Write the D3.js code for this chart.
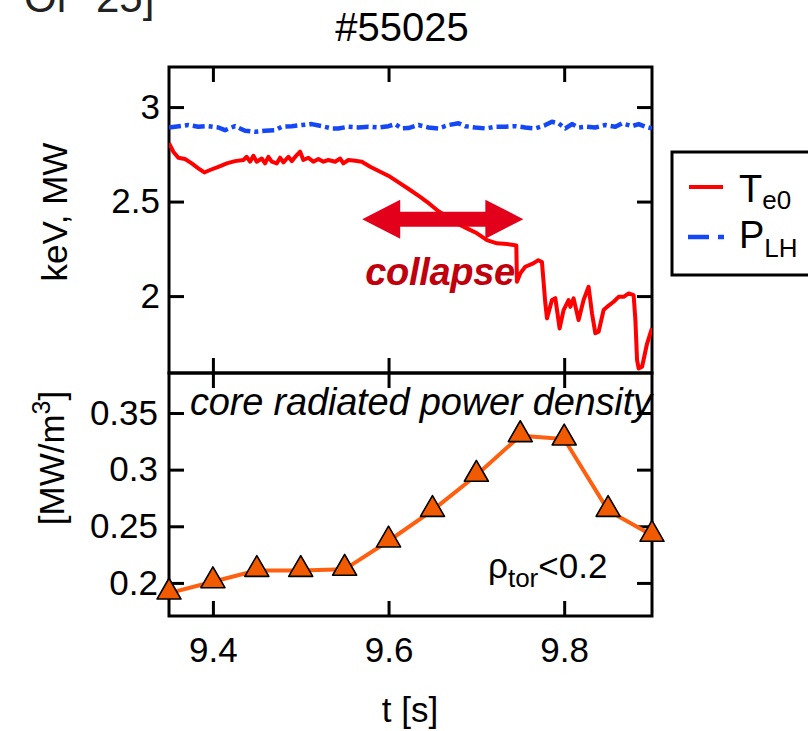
<!DOCTYPE html>
<html><head><meta charset="utf-8">
<script src="https://cdn.jsdelivr.net/npm/d3@7"></script>
<style>body{margin:0;background:#fff}svg{display:block}text{font-family:"Liberation Sans",Arial,sans-serif}</style>
</head><body>
<svg id="c" width="808" height="731"></svg>
<script>
// ---- data ----
const teTime = [9.3500,9.3511,9.3549,9.3606,9.3682,9.3759,9.3834,9.3902,9.3967,9.4062,9.4158,9.4252,9.4347,9.4385,9.4423,9.4461,9.4499,9.4556,9.4594,9.4632,9.4670,9.4727,9.4765,9.4803,9.4860,9.4898,9.4955,9.4993,9.5030,9.5087,9.5144,9.5201,9.5258,9.5315,9.5392,9.5449,9.5486,9.5543,9.5620,9.5696,9.5791,9.5905,9.6019,9.6132,9.6246,9.6360,9.6437,9.6551,9.6665,9.6779,9.6893,9.7007,9.7121,9.7234,9.7348,9.7424,9.7455,9.7462,9.7500,9.7557,9.7648,9.7705,9.7747,9.7785,9.7804,9.7861,9.7899,9.7948,9.7993,9.8050,9.8070,9.8107,9.8164,9.8221,9.8278,9.8317,9.8355,9.8392,9.8449,9.8488,9.8563,9.8620,9.8677,9.8734,9.8791,9.8811,9.8830,9.8848,9.8887,9.8944,9.9000];
const teValue = [2.808,2.799,2.764,2.732,2.725,2.702,2.676,2.654,2.667,2.684,2.702,2.714,2.720,2.737,2.711,2.742,2.711,2.728,2.702,2.737,2.711,2.702,2.732,2.707,2.737,2.714,2.746,2.764,2.720,2.732,2.711,2.725,2.711,2.720,2.711,2.728,2.702,2.720,2.716,2.711,2.684,2.658,2.631,2.596,2.561,2.525,2.499,2.455,2.420,2.384,2.358,2.332,2.296,2.279,2.275,2.270,2.268,2.076,2.120,2.155,2.173,2.190,2.180,1.963,1.882,1.979,1.989,1.829,1.926,1.979,1.943,1.988,1.873,1.979,2.049,1.908,1.803,1.811,1.926,1.943,1.970,1.996,1.996,2.014,2.005,1.873,1.661,1.617,1.626,1.749,1.830];
const plhTime = [9.3500,9.3568,9.3720,9.3834,9.3948,9.4062,9.4138,9.4252,9.4366,9.4480,9.4594,9.4708,9.4784,9.4898,9.5012,9.5126,9.5240,9.5354,9.5429,9.5543,9.5657,9.5771,9.5885,9.5999,9.6076,9.6152,9.6227,9.6341,9.6455,9.6569,9.6683,9.6797,9.6873,9.6987,9.7101,9.7215,9.7329,9.7443,9.7557,9.7671,9.7785,9.7861,9.7936,9.8013,9.8089,9.8164,9.8241,9.8355,9.8469,9.8583,9.8659,9.8773,9.8848,9.8924,9.9000];
const plhValue = [2.892,2.896,2.905,2.896,2.899,2.892,2.878,2.899,2.875,2.869,2.875,2.878,2.896,2.899,2.905,2.910,2.899,2.887,2.887,2.896,2.892,2.896,2.892,2.899,2.910,2.887,2.889,2.905,2.892,2.887,2.905,2.914,2.899,2.892,2.887,2.896,2.896,2.899,2.892,2.887,2.905,2.922,2.914,2.887,2.910,2.892,2.896,2.892,2.905,2.896,2.914,2.899,2.910,2.896,2.887];
const radTime = [9.35,9.40,9.45,9.50,9.55,9.60,9.65,9.70,9.75,9.80,9.85,9.90];
const radValue = [0.191,0.201,0.211,0.211,0.212,0.237,0.264,0.295,0.330,0.327,0.264,0.242];
const xTicks = [9.4,9.6,9.8];
const topTicks = [2,2.5,3];
const botTicks = [0.2,0.25,0.3,0.35];
const legendNames = ["T","P"];
const legendSubs = ["e0","LH"];

// ---- layout ----
const svg = d3.select("#c");
const L = 169, R = 652, T1 = 67, B1 = 373, T2 = 373, B2 = 616;
const x = d3.scaleLinear().domain([9.35, 9.9]).range([L, R]);
const y1 = d3.scaleLinear().domain([1.593, 3.212]).range([B1, T1]);
const y2 = d3.scaleLinear().domain([0.1708, 0.3853]).range([B2, T2]);
const FS = 35;

// top-left reference text (cut by the top edge, as in the original)
svg.append("text").attr("x", 24).attr("y", 12).attr("font-size", 42).attr("fill", "#222").text("Or");
svg.append("text").attr("x", 96).attr("y", 12).attr("font-size", 42).attr("fill", "#222").text("25]");

// title
svg.append("text").attr("x", 402).attr("y", 41).attr("text-anchor", "middle").attr("font-size", 40).text("#55025");

function styleAxis(g){
  g.select(".domain").remove();
  g.selectAll(".tick line").attr("stroke", "#000").attr("stroke-width", 3);
  g.selectAll(".tick text").attr("font-size", FS).attr("fill", "#000").attr("font-family", '"Liberation Sans",Arial,sans-serif');
}
const TK = -15;
// top panel axes
svg.append("g").attr("transform", `translate(${L},0)`).call(d3.axisLeft(y1).tickValues(topTicks).tickSize(TK).tickPadding(9).tickFormat(d3.format("~g"))).call(styleAxis);
svg.append("g").attr("transform", `translate(${R},0)`).call(d3.axisRight(y1).tickValues(topTicks).tickSize(TK).tickFormat("")).call(styleAxis);
svg.append("g").attr("transform", `translate(0,${T1})`).call(d3.axisTop(x).tickValues(xTicks).tickSize(TK).tickFormat("")).call(styleAxis);
svg.append("g").attr("transform", `translate(0,${B1})`).call(d3.axisBottom(x).tickValues(xTicks).tickSize(TK).tickFormat("")).call(styleAxis);
// bottom panel axes
svg.append("g").attr("transform", `translate(${L},0)`).call(d3.axisLeft(y2).tickValues(botTicks).tickSize(TK).tickPadding(11).tickFormat(d3.format("~g"))).call(styleAxis);
svg.append("g").attr("transform", `translate(${R},0)`).call(d3.axisRight(y2).tickValues(botTicks).tickSize(TK).tickFormat("")).call(styleAxis);
svg.append("g").attr("transform", `translate(0,${T2})`).call(d3.axisTop(x).tickValues(xTicks).tickSize(TK).tickFormat("")).call(styleAxis);
svg.append("g").attr("transform", `translate(0,${B2})`).call(d3.axisBottom(x).tickValues(xTicks).tickSize(TK).tickPadding(21).tickFormat(d3.format(".1f"))).call(styleAxis);

// frames
svg.append("rect").attr("x", L).attr("y", T1).attr("width", R - L).attr("height", B1 - T1).attr("fill", "none").attr("stroke", "#000").attr("stroke-width", 3);
svg.append("rect").attr("x", L).attr("y", T2).attr("width", R - L).attr("height", B2 - T2).attr("fill", "none").attr("stroke", "#000").attr("stroke-width", 3);

// axis titles
svg.append("text").attr("transform", "translate(67,212) rotate(-90)").attr("text-anchor", "middle").attr("font-size", FS).text("keV, MW");
const yl2 = svg.append("text").attr("transform", "translate(64,458) rotate(-90)").attr("text-anchor", "middle").attr("font-size", FS);
yl2.append("tspan").text("[MW/m");
yl2.append("tspan").attr("dy", -14).attr("font-size", 25).text("3");
yl2.append("tspan").attr("dy", 14).text("]");
svg.append("text").attr("x", 410).attr("y", 722).attr("text-anchor", "middle").attr("font-size", FS).text("t [s]");

// top panel lines
svg.append("clipPath").attr("id", "cp1").append("rect").attr("x", L).attr("y", T1).attr("width", R - L).attr("height", B1 - T1);
const line1 = d3.line().x(d => x(d[0])).y(d => y1(d[1]));
svg.append("path").datum(plhTime.map((t, i) => [t, plhValue[i]]))
  .attr("d", line1).attr("fill", "none").attr("stroke", "#1447f5").attr("stroke-width", 4.5)
  .attr("stroke-dasharray", "12,4,4,4").attr("stroke-linejoin", "round").attr("clip-path", "url(#cp1)");
svg.append("path").datum(teTime.map((t, i) => [t, teValue[i]]))
  .attr("d", line1).attr("fill", "none").attr("stroke", "#ff0000").attr("stroke-width", 4)
  .attr("stroke-linejoin", "round").attr("clip-path", "url(#cp1)");

// collapse arrow
const ax0 = x(9.570), ax1 = x(9.7535), ay = y1(2.407);
const hl = 38, hh = 19.5, sh = 7.5;
const arrowPts = [[ax0, ay], [ax0 + hl, ay - hh], [ax0 + hl, ay - sh], [ax1 - hl, ay - sh], [ax1 - hl, ay - hh], [ax1, ay], [ax1 - hl, ay + hh], [ax1 - hl, ay + sh], [ax0 + hl, ay + sh], [ax0 + hl, ay + hh]];
svg.append("path").attr("d", d3.line()(arrowPts) + "Z").attr("fill", "#e2001a");
svg.append("text").attr("x", x(9.5734)).attr("y", y1(2.058)).attr("font-size", 38).attr("font-weight", "bold").attr("font-style", "italic").attr("fill", "#c0000c").attr("textLength", 150).text("collapse");

// legend
svg.append("rect").attr("x", 672).attr("y", 152).attr("width", 150).attr("height", 123).attr("fill", "#fff").attr("stroke", "#000").attr("stroke-width", 3);
svg.append("line").attr("x1", 689).attr("x2", 723).attr("y1", 187).attr("y2", 187).attr("stroke", "#ff0000").attr("stroke-width", 4);
svg.append("line").attr("x1", 688).attr("x2", 727).attr("y1", 237).attr("y2", 237).attr("stroke", "#1447f5").attr("stroke-width", 4.5).attr("stroke-dasharray", "21,9,6,9");
const lgY = [202, 248], lgSubDy = [7, 9];
legendNames.forEach((n, i) => {
  const t = svg.append("text").attr("x", 739).attr("y", lgY[i]).attr("font-size", 38).text(n);
  t.append("tspan").attr("dy", lgSubDy[i]).attr("font-size", 26).text(legendSubs[i]);
});

// bottom panel
const line2 = d3.line().x(d => x(d[0])).y(d => y2(d[1]));
const rad = radTime.map((t, i) => [t, radValue[i]]);
svg.append("path").datum(rad).attr("d", line2).attr("fill", "none").attr("stroke", "#ff6010").attr("stroke-width", 4);
svg.selectAll("path.tri").data(rad).join("path").attr("class", "tri")
  .attr("d", d3.symbol(d3.symbolTriangle, 250))
  .attr("transform", d => `translate(${x(d[0])},${y2(d[1]) - 1})`)
  .attr("fill", "#f25a00").attr("stroke", "#000").attr("stroke-width", 1.6).attr("stroke-linejoin", "round");

svg.append("text").attr("x", 190).attr("y", 415).attr("font-size", 38).attr("font-style", "italic").attr("textLength", 462).text("core radiated power density");
const rho = svg.append("text").attr("x", 488).attr("y", 578).attr("font-size", 35);
rho.append("tspan").text("ρ");
rho.append("tspan").attr("dy", 9).attr("font-size", 26).text("tor");
rho.append("tspan").attr("dy", -9).text("<0.2");
</script>
</body></html>
